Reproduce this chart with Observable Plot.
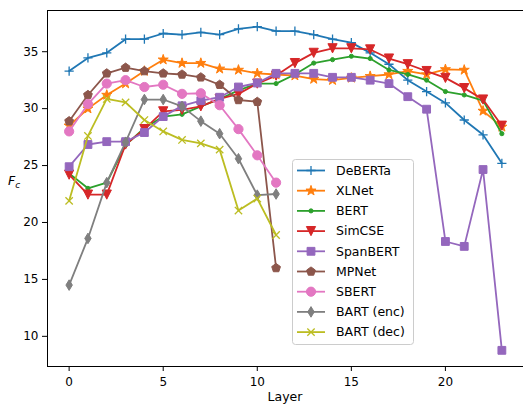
<!DOCTYPE html>
<html>
<head>
<meta charset="utf-8">
<script src="https://cdn.jsdelivr.net/npm/d3@7"></script>
<script src="https://cdn.jsdelivr.net/npm/@observablehq/plot@0.6"></script>
<style>
  html, body { margin: 0; padding: 0; background: #fff; }
  #chart { position: relative; width: 523px; height: 405px; font-family: "DejaVu Sans", sans-serif; }
</style>
</head>
<body>
<div id="chart"></div>
<script>
// ---- data ----
const models = ["DeBERTa", "XLNet", "BERT", "SimCSE", "SpanBERT", "MPNet", "SBERT", "BART (enc)", "BART (dec)"];
const colors = ["#1f77b4", "#ff7f0e", "#2ca02c", "#d62728", "#9467bd", "#8c564b", "#e377c2", "#7f7f7f", "#bcbd22"];
const markers = ["plus", "star", "point", "triDown", "square", "pentagon", "circle", "thinDiamond", "x"];

const deberta  = [33.3, 34.45, 34.9, 36.1, 36.1, 36.6, 36.5, 36.7, 36.5, 37.0, 37.2, 36.8, 36.8, 36.5, 36.1, 35.8, 34.9, 33.9, 32.5, 31.5, 30.5, 29.0, 27.7, 25.2];
const xlnet    = [28.5, 30.0, 31.2, 32.2, 33.3, 34.3, 34.0, 34.0, 33.5, 33.4, 33.1, 33.0, 32.9, 32.6, 32.5, 32.7, 32.85, 33.0, 33.3, 33.0, 33.45, 33.4, 29.8, 28.4];
const bert     = [24.3, 23.0, 23.5, 26.8, 28.3, 29.3, 29.5, 30.2, 30.85, 31.6, 32.2, 32.2, 33.0, 34.0, 34.3, 34.6, 34.4, 33.4, 33.0, 32.5, 31.5, 31.2, 30.7, 27.8];
const simcse   = [24.2, 22.45, 22.45, 26.85, 28.2, 29.76, 29.9, 30.2, 30.85, 31.3, 32.2, 32.9, 34.0, 34.9, 35.3, 35.3, 35.2, 34.4, 33.9, 33.3, 32.7, 31.8, 30.8, 28.5];
const spanbert = [24.9, 26.85, 27.1, 27.1, 27.9, 29.3, 30.25, 30.7, 31.0, 31.9, 32.25, 33.1, 33.1, 33.1, 32.75, 32.75, 32.5, 32.2, 31.05, 29.95, 18.33, 17.9, 24.65, 8.77];
const mpnet    = [28.9, 31.2, 33.1, 33.6, 33.3, 33.1, 33.0, 32.75, 32.1, 30.76, 30.6, 16.0];
const sbert    = [28.0, 30.4, 32.2, 32.5, 31.9, 32.1, 31.3, 31.35, 30.3, 28.2, 25.9, 23.5];
const bartEnc  = [14.5, 18.6, 23.5, 27.05, 30.8, 30.8, 30.2, 28.9, 27.8, 25.6, 22.4, 22.5];
const bartDec  = [21.9, 27.6, 30.85, 30.55, 29.0, 28.0, 27.25, 26.95, 26.4, 21.05, 22.1, 18.9];

const seriesValues = [deberta, xlnet, bert, simcse, spanbert, mpnet, sbert, bartEnc, bartDec];
const xTicks = [0, 5, 10, 15, 20];
const yTicks = [10, 15, 20, 25, 30, 35];
const xDomain = [-1.15, 24.15];
const yDomain = [7.35, 38.62];

// ---- marker shapes (matplotlib-like) ----
function mk(kind) {
  return {
    draw(ctx, size) {
      const s = Math.sqrt(size / Math.PI);
      switch (kind) {
        case "plus":
          ctx.moveTo(-s, 0); ctx.lineTo(s, 0); ctx.moveTo(0, -s); ctx.lineTo(0, s); break;
        case "x":
          ctx.moveTo(-s * 0.8, -s * 0.8); ctx.lineTo(s * 0.8, s * 0.8);
          ctx.moveTo(-s * 0.8, s * 0.8); ctx.lineTo(s * 0.8, -s * 0.8); break;
        case "point":
          ctx.moveTo(s * 0.45, 0); ctx.arc(0, 0, s * 0.45, 0, 2 * Math.PI); break;
        case "circle":
          ctx.moveTo(s, 0); ctx.arc(0, 0, s, 0, 2 * Math.PI); break;
        case "square": {
          const h = s * 0.85;
          ctx.moveTo(-h, -h); ctx.lineTo(h, -h); ctx.lineTo(h, h); ctx.lineTo(-h, h); ctx.closePath(); break;
        }
        case "triDown":
          ctx.moveTo(0, s); ctx.lineTo(-s, -s); ctx.lineTo(s, -s); ctx.closePath(); break;
        case "thinDiamond":
          ctx.moveTo(0, -s * 1.15); ctx.lineTo(s * 0.7, 0); ctx.lineTo(0, s * 1.15); ctx.lineTo(-s * 0.7, 0); ctx.closePath(); break;
        case "pentagon":
          for (let i = 0; i < 5; i++) {
            const a = -Math.PI / 2 + i * 2 * Math.PI / 5;
            const px = s * Math.cos(a), py = s * Math.sin(a);
            if (i === 0) ctx.moveTo(px, py); else ctx.lineTo(px, py);
          }
          ctx.closePath(); break;
        case "star":
          for (let i = 0; i < 10; i++) {
            const a = -Math.PI / 2 + i * Math.PI / 5;
            const rr = (i % 2 === 0 ? s * 1.15 : s * 1.15 * 0.382);
            const px = rr * Math.cos(a), py = rr * Math.sin(a);
            if (i === 0) ctx.moveTo(px, py); else ctx.lineTo(px, py);
          }
          ctx.closePath(); break;
      }
    }
  };
}
const strokeOnly = new Set(["plus", "x"]);

const rows = [];
models.forEach((m, i) => seriesValues[i].forEach((v, layer) => rows.push({model: m, layer, value: v})));

const marks = [];
models.forEach((m, i) => {
  const data = rows.filter(d => d.model === m);
  const c = colors[i];
  marks.push(Plot.line(data, {x: "layer", y: "value", stroke: c, strokeWidth: 1.8}));
  const so = strokeOnly.has(markers[i]);
  marks.push(Plot.dot(data, {
    x: "layer", y: "value", r: 4.6, symbol: mk(markers[i]),
    fill: so ? "none" : c, stroke: c, strokeWidth: so ? 1.3 : 1
  }));
});

const plot = Plot.plot({
  width: 523,
  height: 405,
  marginLeft: 47,
  marginRight: 0,
  marginTop: 10,
  marginBottom: 39,
  style: {fontFamily: "DejaVu Sans, sans-serif", fontSize: "12px", color: "#000", background: "#fff"},
  x: {domain: xDomain, ticks: xTicks, tickSize: 5, tickPadding: 6, label: null},
  y: {domain: yDomain, ticks: yTicks, tickSize: 5, tickPadding: 4, label: null},
  marks: [
    ...marks,
    Plot.ruleY([yDomain[0], yDomain[1]], {stroke: "#000", strokeWidth: 1}),
    Plot.ruleX([xDomain[0]], {stroke: "#000", strokeWidth: 1})
  ]
});
document.getElementById("chart").appendChild(plot);

// ---- axis labels ----
const svg = d3.select(plot);
svg.append("text")
  .attr("x", 285).attr("y", 401)
  .attr("text-anchor", "middle")
  .style("font-family", "DejaVu Sans, sans-serif").style("font-size", "12.5px")
  .text("Layer");
const yl = svg.append("text")
  .attr("x", 8).attr("y", 185)
  .attr("text-anchor", "start")
  .style("font-family", "DejaVu Sans, sans-serif").style("font-size", "12.5px");
yl.append("tspan").style("font-style", "italic").text("F");
yl.append("tspan").attr("dy", 3).style("font-style", "italic").style("font-size", "9px").text("c");

// ---- legend (inside the axes, like matplotlib) ----
const lg = svg.append("g").attr("text-anchor", "start");
lg.append("rect")
  .attr("x", 292.5).attr("y", 159.5).attr("width", 121).attr("height", 185).attr("rx", 3)
  .attr("fill", "#fff").attr("fill-opacity", 0.8).attr("stroke", "#cccccc").attr("stroke-width", 1);
models.forEach((m, i) => {
  const y = 170.5 + i * 20.2;
  const c = colors[i];
  lg.append("line").attr("x1", 297).attr("x2", 325).attr("y1", y).attr("y2", y)
    .attr("stroke", c).attr("stroke-width", 1.8);
  const so = strokeOnly.has(markers[i]);
  lg.append("path")
    .attr("d", d3.symbol(mk(markers[i]), Math.PI * 4.6 * 4.6)())
    .attr("transform", `translate(311,${y})`)
    .attr("fill", so ? "none" : c).attr("stroke", c).attr("stroke-width", so ? 1.3 : 1);
  lg.append("text").attr("x", 336).attr("y", y).attr("dy", "0.35em")
    .attr("text-anchor", "start")
    .style("font-family", "DejaVu Sans, sans-serif").style("font-size", "12.5px")
    .text(m);
});
</script>
</body>
</html>
